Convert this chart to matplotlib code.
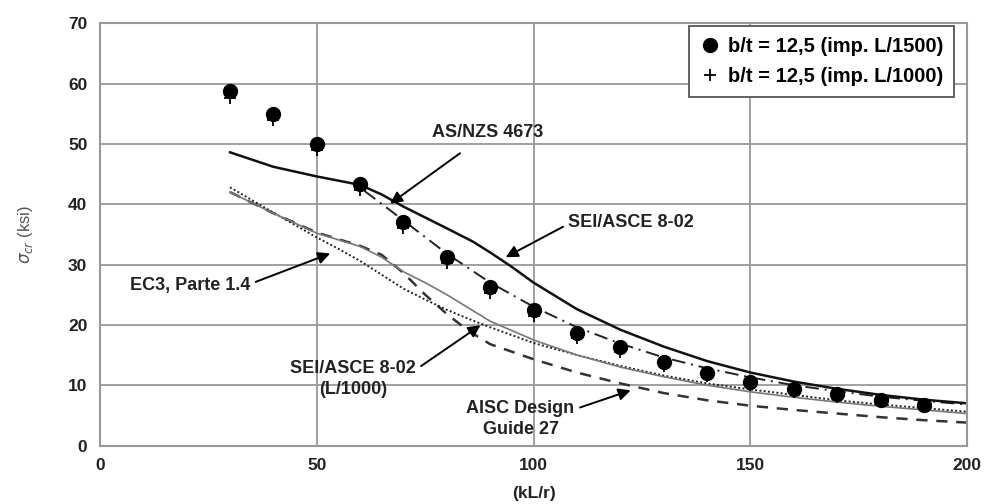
import matplotlib

matplotlib.use("Agg")
import matplotlib.pyplot as plt

plt.rcParams["font.family"] = ["Liberation Sans", "DejaVu Sans"]

# slenderness values of the test points
x_pts = [30, 40, 50, 60, 70, 80, 90, 100, 110, 120, 130, 140, 150, 160, 170, 180, 190]
imp_1500 = [58.7, 54.9, 49.9, 43.4, 37.0, 31.2, 26.2, 22.4, 18.7, 16.3, 13.9, 12.1, 10.6, 9.4, 8.5, 7.6, 6.8]
imp_1000 = [57.6, 53.9, 48.9, 42.4, 36.0, 30.3, 25.3, 21.5, 17.9, 15.5, 13.2, 11.5, 10.0, 8.9, 8.0, 7.2, 6.4]

# design curves
x_sei = [30, 40, 50, 60, 65, 70, 80, 86, 90, 95, 100, 110, 120, 130, 140, 150, 160, 170, 180, 190, 200]
sei = [48.6, 46.2, 44.6, 43.2, 41.6, 39.6, 36.0, 33.8, 32.0, 29.6, 27.0, 22.6, 19.2, 16.4, 14.0, 12.1, 10.6, 9.4, 8.4, 7.6, 7.0]

x_asnzs = [61, 66, 70, 80, 90, 100, 110, 120, 130, 140, 150, 160, 170, 180, 190, 200]
asnzs = [42.2, 39.5, 37.3, 31.8, 27.0, 23.0, 19.6, 16.9, 14.6, 12.8, 11.3, 10.0, 9.0, 8.1, 7.4, 6.8]

x_lo = [30, 40, 50, 55, 60, 65, 70, 75, 80, 85, 90, 100, 110, 120, 130, 140, 150, 160, 170, 180, 190, 200]
sei_1000 = [42.0, 38.5, 35.2, 34.1, 33.0, 31.2, 28.8, 27.0, 25.0, 22.8, 20.6, 17.5, 15.0, 13.0, 11.4, 10.0, 8.9, 8.0, 7.2, 6.5, 5.9, 5.3]
ec3 = [42.8, 38.6, 34.5, 32.6, 30.6, 28.3, 26.0, 24.2, 22.5, 21.0, 19.6, 17.0, 15.0, 13.2, 11.6, 10.3, 9.3, 8.4, 7.5, 6.8, 6.2, 5.6]
aisc = [42.0, 38.5, 35.3, 34.2, 33.1, 31.6, 28.6, 25.0, 21.8, 19.0, 16.8, 14.3, 12.1, 10.3, 8.7, 7.5, 6.6, 5.9, 5.3, 4.7, 4.2, 3.8]

x_ticks = [0, 50, 100, 150, 200]
y_ticks = [0, 10, 20, 30, 40, 50, 60, 70]

fig = plt.figure(figsize=(9.89, 5.04), dpi=100)
ax = fig.add_axes([0.101, 0.116, 0.877, 0.838])

ax.plot(x_lo, aisc, color="#333333", lw=1.8, ls=(0, (4.5, 3.5)))
ax.plot(x_lo, ec3, color="#222222", lw=1.4, ls=(0, (1, 1.2)))
ax.plot(x_lo, sei_1000, color="#777777", lw=1.2)
ax.plot(x_asnzs, asnzs, color="#222222", lw=1.4, ls=(0, (7, 3, 1, 3)))
ax.plot(x_sei, sei, color="#111111", lw=1.8)

ax.plot(x_pts, imp_1000, ls="none", marker="+", ms=8, mew=1.3, color="black",
        label="b/t = 12,5 (imp. L/1000)")
ax.plot(x_pts, imp_1500, ls="none", marker="o", ms=10, color="black",
        label="b/t = 12,5 (imp. L/1500)")

ax.set_xlim(0, 200)
ax.set_ylim(0, 70)
ax.set_xticks(x_ticks)
ax.set_yticks(y_ticks)
ax.tick_params(length=0, labelsize=12.5, pad=9)
for lab in ax.get_xticklabels() + ax.get_yticklabels():
    lab.set_fontweight("bold")
    lab.set_color("#222222")
ax.grid(True, color="#999999", lw=1.3)
ax.set_axisbelow(True)
for s in ax.spines.values():
    s.set_color("#999999")
    s.set_linewidth(1.5)

ax.set_xlabel("(kL/r)", fontsize=12.5, fontweight="bold", color="#222222", labelpad=9)
ax.set_ylabel(r"$\sigma_{cr}$ (ksi)", fontsize=12, color="#555555", labelpad=24)

h, l = ax.get_legend_handles_labels()
leg = ax.legend(h[::-1], l[::-1], loc="upper right", bbox_to_anchor=(0.985, 0.993),
                borderaxespad=0, prop={"size": 14.5, "weight": "bold"}, fancybox=False,
                framealpha=1, handletextpad=0.4, handlelength=1.0, borderpad=0.55,
                labelspacing=0.55)
leg.get_frame().set_edgecolor("#555555")
leg.get_frame().set_linewidth(1.3)

arrow = dict(arrowstyle="-|>", color="black", lw=1.4, mutation_scale=18)
txt = dict(fontsize=13, fontweight="bold", color="#222222", ha="center", va="center")
ax.annotate("AS/NZS 4673", xy=(66.4, 39.8), xytext=(89.5, 51.8),
            arrowprops=dict(arrow, shrinkA=11), **txt)
ax.annotate("SEI/ASCE 8-02", xy=(93.0, 31.0), xytext=(122.5, 37.0),
            arrowprops=dict(arrow, shrinkA=2, relpos=(0, 0.4)), **txt)
ax.annotate("EC3, Parte 1.4", xy=(53.7, 32.0), xytext=(20.8, 26.5),
            arrowprops=dict(arrow, shrinkA=2, relpos=(1, 0.6)), **txt)
ax.annotate("SEI/ASCE 8-02\n(L/1000)", xy=(88.3, 20.2), xytext=(58.4, 11.0),
            arrowprops=dict(arrow, shrinkA=2, relpos=(1, 0.75)), linespacing=1.35, **txt)
ax.annotate("AISC Design\nGuide 27", xy=(123.0, 9.3), xytext=(97.0, 4.4),
            arrowprops=dict(arrow, shrinkA=2, relpos=(1, 0.75)), linespacing=1.35, **txt)

fig.savefig("out.png", dpi=100)
